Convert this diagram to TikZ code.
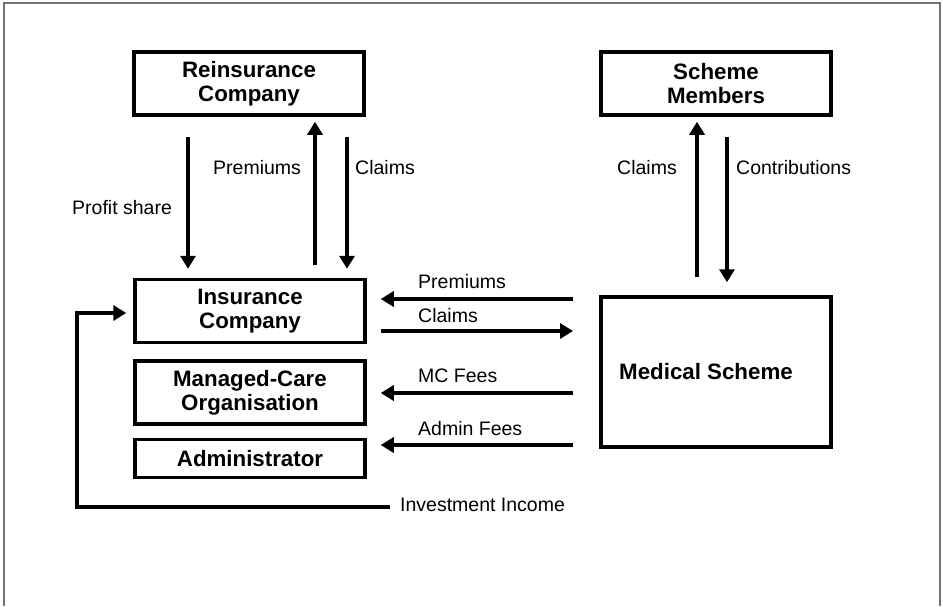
\documentclass[tikz,border=0pt]{standalone}
\usepackage{fontspec}
\setmainfont{Liberation Sans}
\usetikzlibrary{arrows.meta}

\begin{document}
\begin{tikzpicture}[x=1pt, y=-1pt,
    party/.style={draw, line width=3.5pt, inner sep=0pt, align=center,
                  font=\fontsize{22.3}{24}\selectfont\bfseries},
    flow/.style={-{Triangle[length=13pt,width=15pt]}, line width=4pt},
    money/.style={anchor=base west, inner sep=0pt, font=\fontsize{19.5}{22}\selectfont}]

    \useasboundingbox (0,0) rectangle (943,606);
    \draw[line width=1.2pt, black!55] (4,606) -- (4,3) -- (940,3) -- (940,606);

    % parties
    \node[party, minimum width=230, minimum height=63]  (reins)   at (249,83.5)  {Reinsurance\\Company};
    \node[party, minimum width=230, minimum height=63]  (members) at (716,83.5)  {Scheme\\Members};
    \node[party, minimum width=230, minimum height=63]  (ins)     at (250,311)   {Insurance\\Company};
    \node[party, minimum width=230, minimum height=63]  (mco)     at (250,392.5) {Managed-Care\\Organisation};
    \node[party, minimum width=230, minimum height=38]  (admin)   at (250,458.5) {Administrator};
    \node[party, minimum width=230, minimum height=150] (scheme)  at (716,372)   {\hspace*{-20pt}Medical Scheme};

    % loose ends of the flows
    \coordinate (profit) at (188,137);
    \coordinate (rprem)  at (315,265);
    \coordinate (rclaim) at (347,137);
    \coordinate (mclaim) at (697,277);
    \coordinate (mcontr) at (727,137);
    \coordinate (sprem)  at (573,299);
    \coordinate (sclaim) at (573,331);
    \coordinate (mcfee)  at (573,393);
    \coordinate (adfee)  at (573,445);
    \coordinate (invest) at (390,507);
    \coordinate (loop)   at (77,313);

    \draw[flow, shorten >=9]  (profit) -- (profit |- ins.north);
    \draw[flow, shorten >=5]  (rprem)  -- (rprem |- reins.south);
    \draw[flow, shorten >=9]  (rclaim) -- (rclaim |- ins.north);
    \draw[flow, shorten >=5]  (mclaim) -- (mclaim |- members.south);
    \draw[flow, shorten >=13] (mcontr) -- (mcontr |- scheme.north);

    \draw[flow, shorten >=14] (sprem) -- (sprem -| ins.east);
    \draw[flow, shorten <=14] (sclaim -| ins.east) -- (sclaim);
    \draw[flow, shorten >=14] (mcfee) -- (mcfee -| mco.east);
    \draw[flow, shorten >=14] (adfee) -- (adfee -| admin.east);
    \draw[flow, shorten >=7]  (invest) -| (loop) -- (loop -| ins.west);

    % labels
    \node[money] (lprofit) at (72,214)  {Profit share};
    \node[money] (lrprem)  at (213,174) {Premiums};
    \node[money] (lrclaim) at (355,174) {Claims};
    \node[money, anchor=base east] (lmclaim) at (677,174) {Claims};
    \node[money] (lmcontr) at (736,174) {Contributions};
    \node[money] (lsprem)  at (418,288) {Premiums};
    \node[money] (lsclaim) at (418,322) {Claims};
    \node[money] (lmcfee)  at (418,382) {MC Fees};
    \node[money] (ladfee)  at (418,435) {Admin Fees};
    \node[money] (linvest) at (400,511) {Investment Income};
\end{tikzpicture}
\end{document}
